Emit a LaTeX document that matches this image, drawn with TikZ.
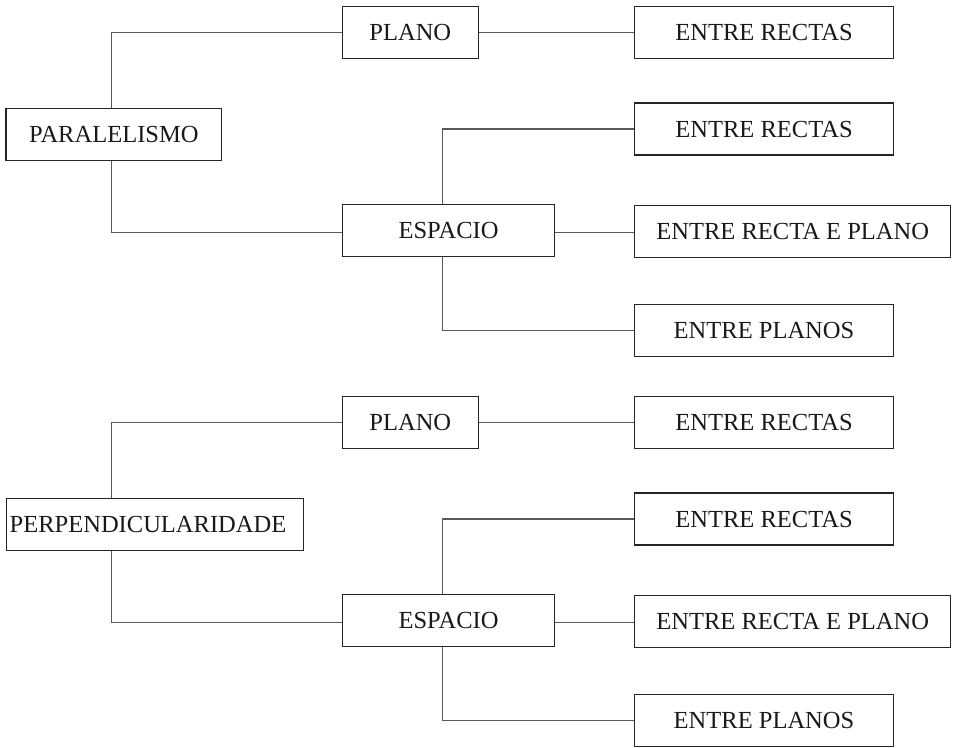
\documentclass[tikz,border=0pt]{standalone}
\usepackage{fontspec}
\setmainfont{Liberation Serif}
\begin{document}
\begin{tikzpicture}[x=0.75pt,y=-0.75pt,
  box/.style={draw=black!85, line width=0.8pt, fill=white, inner sep=0pt,
    minimum height=39pt, text=black!90,
    font=\fontsize{18.4pt}{22pt}\selectfont},
  link/.style={draw=black!65, line width=0.8pt}]
\useasboundingbox (0,0) rectangle (960,747);
\foreach \dy/\top/\tag in {0/PARALELISMO/a, 390/PERPENDICULARIDADE/b} {
  \begin{scope}[yshift=-\dy*0.75pt]
  \ifnum\dy=0
    \node[box, minimum width=161.8pt] (root\tag) at (113.85,134.5) {\top};
  \else
    \node[box, minimum width=223pt] (root\tag) at (154.7,134.3) {\top\hspace*{10pt}\rule{0pt}{0pt}};
  \fi
  \node[box, minimum width=102pt] (plano\tag) at (410.3,32.2) {PLANO};
  \node[box, minimum width=159.3pt] (esp\tag) at (448.5,230.3) {ESPACIO};
  \node[box, minimum width=194pt] (er\tag) at (764,32.2) {ENTRE RECTAS};
  \node[box, minimum width=194pt] (ers\tag) at (764,129) {ENTRE RECTAS};
  \node[box, minimum width=237pt] (erp\tag) at (792.7,231.3) {ENTRE RECTA E PLANO};
  \node[box, minimum width=194pt] (ep\tag) at (764,330.3) {ENTRE PLANOS};
  \coordinate (rx\tag) at (111.7,134.5);
  \coordinate (ex\tag) at (442.3,230.3);
  \coordinate (ey\tag) at (448.5,232.3);
  \draw[link] (rx\tag |- root\tag.north) |- (plano\tag.west);
  \draw[link] (rx\tag |- root\tag.south) |- (esp\tag.west |- ey\tag);
  \draw[link] (plano\tag.east) -- (er\tag.west);
  \draw[link] (ex\tag |- esp\tag.north) |- (ers\tag.west);
  \draw[link] (esp\tag.east |- ey\tag) -- (erp\tag.west |- ey\tag);
  \draw[link] (ex\tag |- esp\tag.south) |- (ep\tag.west);
  \end{scope}
}
\end{tikzpicture}
\end{document}
